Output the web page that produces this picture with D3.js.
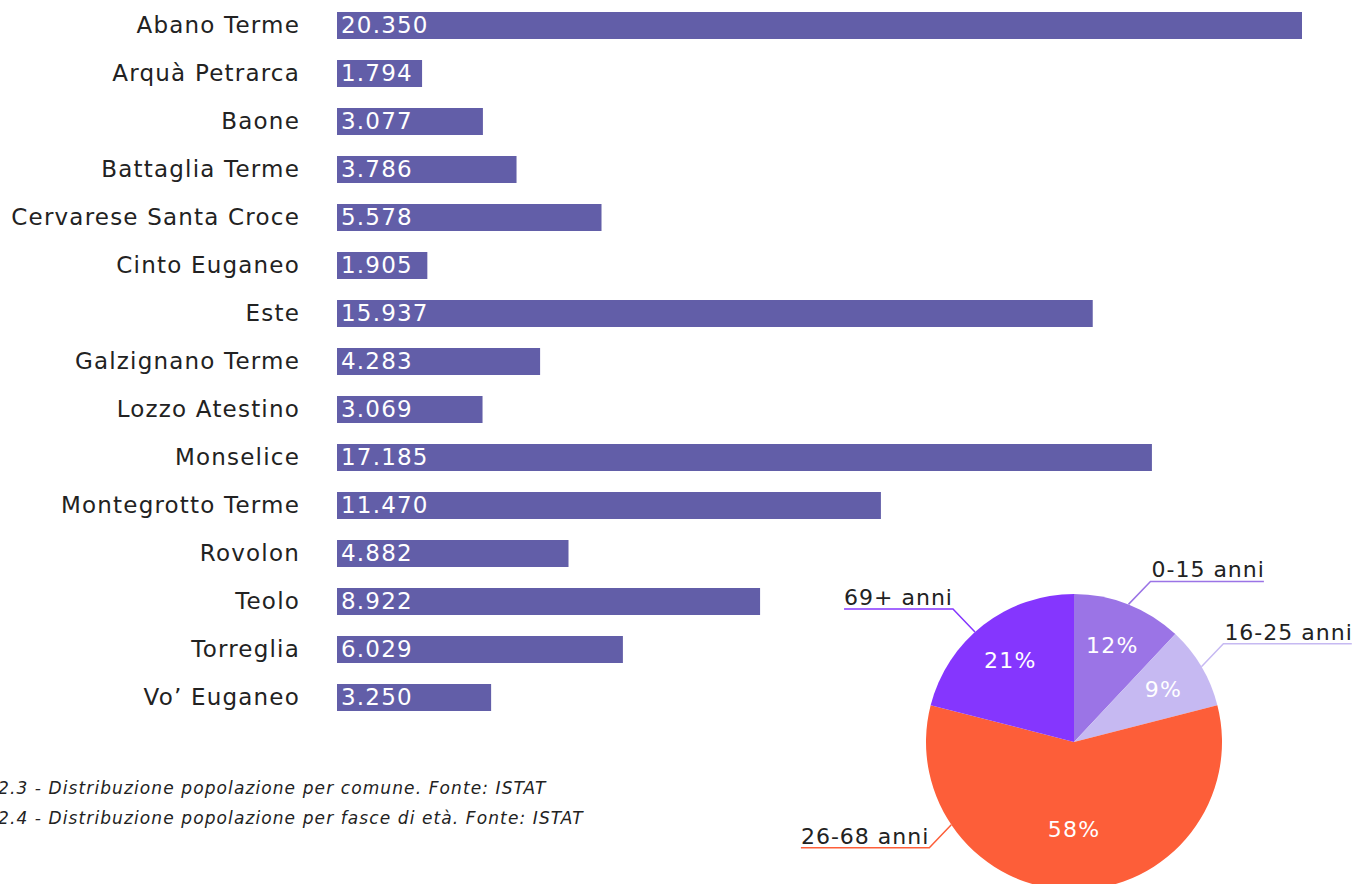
<!DOCTYPE html>
<html>
<head>
<meta charset="utf-8">
<script src="https://cdn.jsdelivr.net/npm/d3@7"></script>
<style>
  html, body { margin: 0; padding: 0; background: #fff; }
  svg { display: block; font-family: "DejaVu Sans", sans-serif; }
</style>
</head>
<body>
<div id="viz"></div>
<script>
// population per comune (fig. 2.3)
var comuni = ['Abano Terme', 'Arquà Petrarca', 'Baone', 'Battaglia Terme',
  'Cervarese Santa Croce', 'Cinto Euganeo', 'Este', 'Galzignano Terme',
  'Lozzo Atestino', 'Monselice', 'Montegrotto Terme', 'Rovolon', 'Teolo',
  'Torreglia', 'Vo’ Euganeo'];
var popolazione = [20350, 1794, 3077, 3786, 5578, 1905, 15937, 4283,
  3069, 17185, 11470, 4882, 8922, 6029, 3250];

// population per age band (fig. 2.4)
var fasce = ['0-15 anni', '16-25 anni', '26-68 anni', '69+ anni'];
var quote = [12, 9, 58, 21];

var captions = [
  '2.3 - Distribuzione popolazione per comune. Fonte: ISTAT',
  '2.4 - Distribuzione popolazione per fasce di età. Fonte: ISTAT'
];

var width = 1355, height = 884;
var bar_color = '#625ea8';
var text_color = '#222222';
var fascia_colors = ['#9b74e6', '#c6b9f2', '#fd5e39', '#8536fe'];

var svg = d3.select('#viz')
  .append('svg')
  .attr('width', width)
  .attr('height', height);

// ---------------- bar chart ----------------
var x = d3.scaleLinear()
  .domain([0, d3.max(popolazione)])
  .range([337, 1302]);

var y = d3.scaleBand()
  .domain(comuni)
  .range([1.5, 721.5])
  .paddingInner(0.4375)
  .paddingOuter(0.21875);

var fmt = d3.format(',');
function fmt_it(v) {
  return fmt(v).replace(/,/g, '.');
}

var rows = svg.append('g')
  .attr('class', 'bar_rows')
  .selectAll('g')
  .data(comuni)
  .enter()
  .append('g')
  .attr('transform', function(d) { return 'translate(0,' + y(d) + ')'; });

rows.append('rect')
  .attr('x', x(0))
  .attr('width', function(d, i) { return x(popolazione[i]) - x(0); })
  .attr('height', y.bandwidth())
  .attr('fill', bar_color);

rows.append('text')
  .attr('x', x(0) - 37)
  .attr('y', y.bandwidth() / 2 + 7)
  .attr('text-anchor', 'end')
  .attr('fill', text_color)
  .style('font-size', '23px')
  .style('letter-spacing', '1.2px')
  .text(function(d) { return d; });

rows.append('text')
  .attr('x', x(0) + 4)
  .attr('y', y.bandwidth() / 2 + 7)
  .attr('fill', '#ffffff')
  .style('font-size', '23px')
  .style('letter-spacing', '1.2px')
  .text(function(d, i) { return fmt_it(popolazione[i]); });

// ---------------- captions ----------------
svg.append('g')
  .attr('class', 'captions')
  .selectAll('text')
  .data(captions)
  .enter()
  .append('text')
  .attr('x', -2)
  .attr('y', function(d, i) { return 794 + i * 30; })
  .attr('fill', text_color)
  .style('font-size', '17px')
  .style('font-style', 'italic')
  .style('letter-spacing', '1.1px')
  .text(function(d) { return d; });

// ---------------- pie chart ----------------
var cx = 1074, cy = 742, radius = 148;
var pie_data = d3.pie().sort(null)(quote);

var arc = d3.arc().innerRadius(0).outerRadius(radius);

var pie_g = svg.append('g')
  .attr('class', 'pie')
  .attr('transform', 'translate(' + cx + ',' + cy + ')');

pie_g.selectAll('path')
  .data(pie_data)
  .enter()
  .append('path')
  .attr('d', arc)
  .attr('fill', function(d, i) { return fascia_colors[i]; });

// percent labels inside the slices
var pct_radius = { '26-68 anni': 87 };
pie_g.selectAll('text.pct')
  .data(pie_data)
  .enter()
  .append('text')
  .attr('class', 'pct')
  .attr('transform', function(d, i) {
    var a = (d.startAngle + d.endAngle) / 2;
    var r = pct_radius[fasce[i]] || 104;
    return 'translate(' + (r * Math.sin(a)) + ',' + (-r * Math.cos(a) + 8) + ')';
  })
  .attr('text-anchor', 'middle')
  .attr('fill', '#ffffff')
  .style('font-size', '22px')
  .style('letter-spacing', '1.2px')
  .text(function(d) { return d.data + '%'; });

// callouts with underlined labels
var callout_deg = { '26-68 anni': 236, '69+ anni': 318 };
pie_data.forEach(function(d, i) {
  var name = fasce[i];
  var a = callout_deg[name] !== undefined ?
    callout_deg[name] * Math.PI / 180 : (d.startAngle + d.endAngle) / 2;
  var px = radius * Math.sin(a), py = -radius * Math.cos(a);
  var sx = Math.sin(a) >= 0 ? 1 : -1;
  var sy = Math.cos(a) >= 0 ? -1 : 1;
  var ex = px + sx * 22, ey = py + sy * 23;

  var lbl = pie_g.append('text')
    .attr('y', ey - 4)
    .attr('fill', text_color)
    .style('font-size', '22px')
    .style('letter-spacing', '1px')
    .text(name);
  var tw = lbl.node().getComputedTextLength();
  lbl.attr('x', sx > 0 ? ex + 1 : ex - tw);

  pie_g.append('path')
    .attr('d', d3.line()([[px, py], [ex, ey], [ex + sx * tw, ey]]))
    .attr('fill', 'none')
    .attr('stroke', fascia_colors[i])
    .attr('stroke-width', 1.5);
});
</script>
</body>
</html>
